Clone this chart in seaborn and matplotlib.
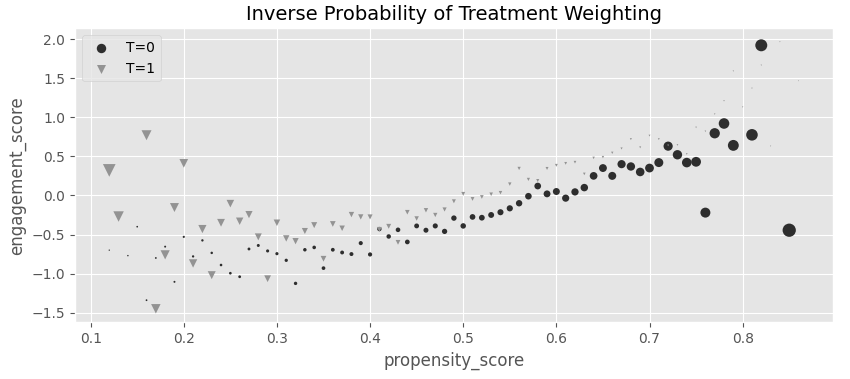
import numpy as np
import pandas as pd
import matplotlib
matplotlib.use("Agg")
import matplotlib.pyplot as plt
import seaborn as sns

# Control group (T=0): propensity score, engagement score, weight (marker area)
p0 = [0.12, 0.14, 0.15, 0.16, 0.17, 0.18, 0.19, 0.20, 0.21, 0.22, 0.23, 0.24,
      0.25, 0.26, 0.27, 0.28, 0.29, 0.30, 0.31, 0.32, 0.33, 0.34, 0.35, 0.36,
      0.37, 0.38, 0.39, 0.40, 0.41, 0.42, 0.43, 0.44, 0.45, 0.46, 0.47, 0.48,
      0.49, 0.50, 0.51, 0.52, 0.53, 0.54, 0.55, 0.56, 0.57, 0.58, 0.59, 0.60,
      0.61, 0.62, 0.63, 0.64, 0.65, 0.66, 0.67, 0.68, 0.69, 0.70, 0.71, 0.72,
      0.73, 0.74, 0.75, 0.76, 0.77, 0.78, 0.79, 0.81, 0.82, 0.85]
y0 = [-0.70, -0.77, -0.40, -1.34, -0.80, -0.655, -1.105, -0.53, -0.78, -0.575,
      -0.735, -0.89, -0.995, -1.04, -0.685, -0.64, -0.71, -0.745, -0.83, -1.125,
      -0.695, -0.665, -0.93, -0.695, -0.73, -0.75, -0.61, -0.755, -0.43, -0.525,
      -0.44, -0.595, -0.39, -0.445, -0.39, -0.46, -0.29, -0.39, -0.275, -0.285,
      -0.25, -0.215, -0.165, -0.10, -0.01, 0.12, 0.02, 0.05, -0.035, 0.045,
      0.10, 0.25, 0.35, 0.25, 0.40, 0.37, 0.30, 0.35, 0.42, 0.63,
      0.52, 0.42, 0.43, -0.22, 0.795, 0.92, 0.64, 0.775, 1.92, -0.445]
w0 = [0.05, 0.06, 0.08, 0.09, 0.09, 0.11, 0.11, 0.13, 0.15, 0.16, 0.17, 0.19,
      0.20, 0.22, 0.23, 0.25, 0.27, 0.28, 0.30, 0.32, 0.34, 0.36, 0.38, 0.40,
      0.42, 0.44, 0.47, 0.49, 0.53, 0.56, 0.59, 0.62, 0.66, 0.70, 0.73, 0.78,
      0.81, 0.84, 0.90, 0.93, 0.97, 1.03, 1.07, 1.14, 1.21, 1.25, 1.32, 1.36,
      1.44, 1.48, 1.56, 1.65, 1.73, 1.78, 1.87, 1.96, 2.05, 2.15, 2.25, 2.35,
      2.45, 2.56, 2.67, 2.78, 2.95, 3.12, 3.30, 3.74, 4.00, 4.90]

# Treated group (T=1)
p1 = [0.12, 0.13, 0.16, 0.17, 0.18, 0.19, 0.20, 0.21, 0.22, 0.23, 0.24, 0.25,
      0.26, 0.27, 0.28, 0.29, 0.30, 0.31, 0.32, 0.33, 0.34, 0.35, 0.36, 0.37,
      0.38, 0.39, 0.40, 0.41, 0.42, 0.43, 0.44, 0.45, 0.46, 0.47, 0.48, 0.49,
      0.50, 0.51, 0.52, 0.53, 0.54, 0.55, 0.56, 0.57, 0.58, 0.59, 0.60, 0.61,
      0.62, 0.63, 0.64, 0.65, 0.66, 0.67, 0.68, 0.69, 0.70, 0.71, 0.72, 0.73,
      0.74, 0.75, 0.76, 0.77, 0.78, 0.79, 0.80, 0.81, 0.82, 0.83, 0.84, 0.86]
y1 = [0.32, -0.27, 0.77, -1.45, -0.76, -0.155, 0.41, -0.87, -0.43, -1.02,
      -0.35, -0.105, -0.33, -0.245, -0.53, -1.065, -0.35, -0.55, -0.585, -0.455,
      -0.38, -0.81, -0.365, -0.42, -0.245, -0.275, -0.275, -0.435, -0.395, -0.60,
      -0.215, -0.295, -0.19, -0.25, -0.18, -0.075, 0.02, -0.045, -0.02, 0.015,
      0.035, 0.145, 0.345, 0.205, 0.19, 0.345, 0.385, 0.41, 0.425, 0.275,
      0.48, 0.49, 0.545, 0.60, 0.72, 0.615, 0.765, 0.72, 0.64, 0.645,
      0.53, 0.87, 0.82, 1.04, 1.21, 1.59, 1.13, 1.37, 1.665, 0.63, 1.965, 1.465]
w1 = [4.48, 3.06, 2.78, 2.50, 2.35, 2.25, 2.10, 1.96, 1.87, 1.78, 1.69, 1.60,
      1.52, 1.44, 1.36, 1.28, 1.21, 1.14, 1.10, 1.03, 1.00, 0.93, 0.90, 0.84,
      0.81, 0.78, 0.72, 0.69, 0.67, 0.64, 0.59, 0.56, 0.54, 0.51, 0.49, 0.44,
      0.42, 0.40, 0.38, 0.36, 0.34, 0.32, 0.30, 0.28, 0.27, 0.25, 0.23, 0.22,
      0.20, 0.19, 0.17, 0.16, 0.15, 0.13, 0.12, 0.11, 0.10, 0.10, 0.09, 0.08,
      0.08, 0.07, 0.07, 0.06, 0.06, 0.05, 0.05, 0.05, 0.05, 0.04, 0.04, 0.03]

df0 = pd.DataFrame({"propensity_score": p0, "engagement_score": y0, "weight": w0})
df1 = pd.DataFrame({"propensity_score": p1, "engagement_score": y1, "weight": w1})

plt.style.use("ggplot")
fig, ax = plt.subplots(figsize=(8.5, 3.79), dpi=100)
fig.subplots_adjust(left=0.088, right=0.98, top=0.925, bottom=0.15)

sns.scatterplot(data=df0, x="propensity_score", y="engagement_score",
                size="weight", sizes=(0, 93), size_norm=(0, 5),
                color="#2e2e2e", marker="o", linewidth=0,
                legend=False, label="T=0", ax=ax)
sns.scatterplot(data=df1, x="propensity_score", y="engagement_score",
                size="weight", sizes=(0, 93), size_norm=(0, 5),
                color="#939393", marker="v", linewidth=0,
                legend=False, label="T=1", ax=ax)

ax.set_title("Inverse Probability of Treatment Weighting", fontsize=14)
ax.set_xlabel("propensity_score")
ax.set_ylabel("engagement_score")
ax.legend(loc="upper left")

fig.savefig("out.png", dpi=100)
